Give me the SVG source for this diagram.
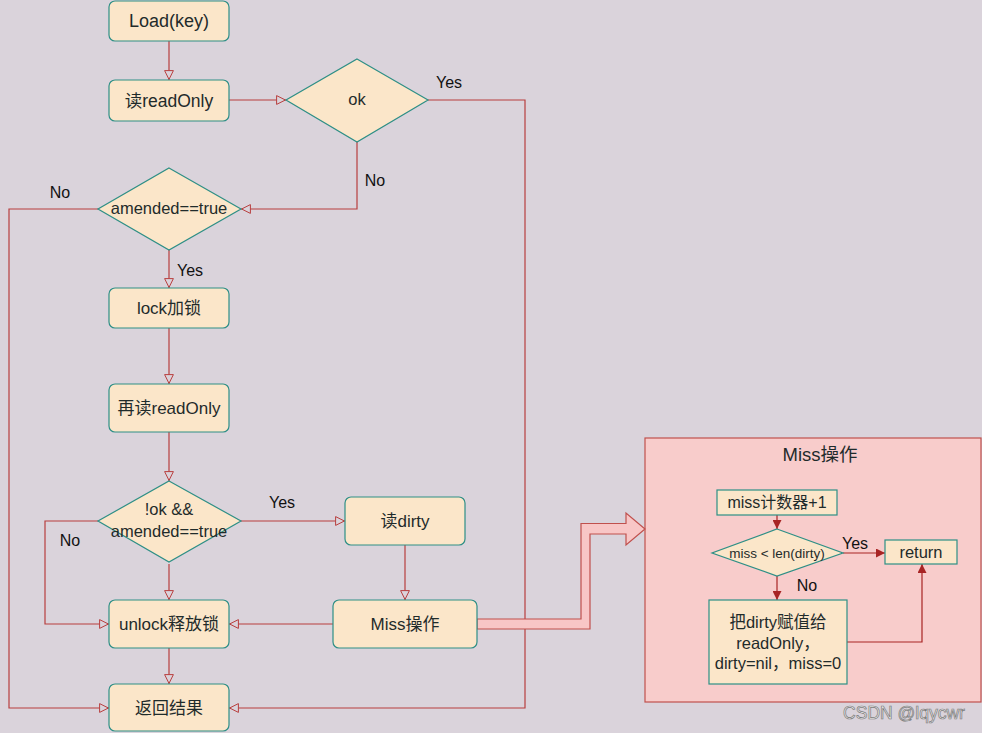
<svg xmlns="http://www.w3.org/2000/svg" width="982" height="733" viewBox="0 0 982 733">
<style>
.bg{fill:#dad3db}
.n{fill:#fbe6c9;stroke:#2e8f86;stroke-width:1.2}
.t{font-family:"Liberation Sans","Noto Sans CJK SC",Arial,sans-serif;fill:#1f2b2b;text-anchor:middle;dominant-baseline:central}
.l{font-family:"Liberation Sans",Arial,sans-serif;fill:#111;text-anchor:middle;dominant-baseline:central;font-size:16px}
.c{fill:none;stroke:#b83e3e;stroke-width:1.2}
.m{fill:none;stroke:#a82424;stroke-width:1.2}
</style>
<defs>
<marker id="ho" viewBox="0 0 10 10" refX="10" refY="5" markerWidth="10" markerHeight="10" markerUnits="userSpaceOnUse" orient="auto">
<path d="M0.6,0.6 L9.4,5 L0.6,9.4 Z" fill="#dad3db" stroke="#b83e3e" stroke-width="1"/>
</marker>
<marker id="fi" viewBox="0 0 10 10" refX="10" refY="5" markerWidth="9" markerHeight="9" markerUnits="userSpaceOnUse" orient="auto">
<path d="M0,0 L10,5 L0,10 Z" fill="#a82424"/>
</marker>
</defs>
<rect class="bg" x="0" y="0" width="982" height="733"/>

<g id="miss-panel">
<rect x="645" y="438" width="336" height="264" fill="#f8cccb" stroke="#c0504d" stroke-width="1.2"/>
<text class="t" x="820" y="454" font-size="18.5">Miss操作</text>
</g>

<g id="connectors">
<polyline class="c" points="169,41 169,80" marker-end="url(#ho)"/>
<polyline class="c" points="229,100 286,100" marker-end="url(#ho)"/>
<polyline class="c" points="428,100 525,100 525,708 229,708" marker-end="url(#ho)"/>
<polyline class="c" points="357,142 357,209 241,209" marker-end="url(#ho)"/>
<polyline class="c" points="98,209 9,209 9,708 109,708" marker-end="url(#ho)"/>
<polyline class="c" points="169,250 169,288" marker-end="url(#ho)"/>
<polyline class="c" points="169,328 169,384" marker-end="url(#ho)"/>
<polyline class="c" points="169,432 169,481" marker-end="url(#ho)"/>
<polyline class="c" points="241,521 345,521" marker-end="url(#ho)"/>
<polyline class="c" points="98,521 45,521 45,624 109,624" marker-end="url(#ho)"/>
<polyline class="c" points="169,564 169,600" marker-end="url(#ho)"/>
<polyline class="c" points="405,545 405,600" marker-end="url(#ho)"/>
<polyline class="c" points="333,624 229,624" marker-end="url(#ho)"/>
<polyline class="c" points="169,648 169,684" marker-end="url(#ho)"/>
<polygon points="477,619 581,619 581,523.5 626,523.5 626,513 645,529 626,545 626,534 590,534 590,629 477,629" fill="#f8c6c6" stroke="#c0504d" stroke-width="1.2"/>
<polyline class="m" points="777,515 777,529" marker-end="url(#fi)"/>
<polyline class="m" points="843,553 885,553" marker-end="url(#fi)"/>
<polyline class="m" points="777,576 777,600" marker-end="url(#fi)"/>
<polyline class="m" points="847,642 922,642 922,564" marker-end="url(#fi)"/>
<text class="l" x="449" y="82">Yes</text>
<text class="l" x="375" y="180">No</text>
<text class="l" x="60" y="192">No</text>
<text class="l" x="190" y="270">Yes</text>
<text class="l" x="282" y="502">Yes</text>
<text class="l" x="70" y="540">No</text>
<text class="l" x="855" y="543" font-size="14">Yes</text>
<text class="l" x="807" y="585" font-size="14">No</text>
</g>

<g id="load"><rect class="n" x="109" y="1" width="120" height="40" rx="6"/><text class="t" x="169" y="21" font-size="18">Load(key)</text></g>
<g id="read-readonly"><rect class="n" x="109" y="80" width="120" height="41" rx="6"/><text class="t" x="169" y="101" font-size="17.5">读readOnly</text></g>
<g id="ok"><polygon class="n" points="357,59 428,100 357,142 286,100"/><text class="t" x="357" y="99" font-size="16.5">ok</text></g>
<g id="amended"><polygon class="n" points="169,168 241,209 169,250 98,209"/><text class="t" x="169" y="208" font-size="16.5">amended==true</text></g>
<g id="lock"><rect class="n" x="109" y="288" width="120" height="40" rx="6"/><text class="t" x="169" y="308" font-size="17">lock加锁</text></g>
<g id="reread"><rect class="n" x="109" y="384" width="120" height="48" rx="6"/><text class="t" x="169" y="408" font-size="17">再读readOnly</text></g>
<g id="notok"><polygon class="n" points="169,481 241,521 169,562 98,521"/><text class="t" x="169" y="509" font-size="16.5">!ok &amp;&amp;</text><text class="t" x="169" y="531" font-size="16.5">amended==true</text></g>
<g id="read-dirty"><rect class="n" x="345" y="497" width="120" height="48" rx="6"/><text class="t" x="405" y="521" font-size="17">读dirty</text></g>
<g id="miss-op"><rect class="n" x="333" y="600" width="144" height="48" rx="6"/><text class="t" x="405" y="624" font-size="17">Miss操作</text></g>
<g id="unlock"><rect class="n" x="109" y="600" width="120" height="48" rx="6"/><text class="t" x="169" y="624" font-size="17">unlock释放锁</text></g>
<g id="result"><rect class="n" x="109" y="684" width="120" height="47" rx="6"/><text class="t" x="169" y="708" font-size="17">返回结果</text></g>

<g id="miss-counter"><rect class="n" x="717" y="490" width="120" height="25"/><text class="t" x="777" y="502.5" font-size="16">miss计数器+1</text></g>
<g id="miss-cmp"><polygon class="n" points="777,529 843,553 777,576 712,553"/><text class="t" x="777" y="553" font-size="13.5">miss &lt; len(dirty)</text></g>
<g id="return"><rect class="n" x="885" y="540" width="72" height="24"/><text class="t" x="921" y="552" font-size="16.5">return</text></g>
<g id="promote"><rect class="n" x="709" y="600" width="138" height="84"/><text class="t" x="778" y="622" font-size="16.5">把dirty赋值给</text><text class="t" x="778" y="643" font-size="16.5">readOnly，</text><text class="t" x="778" y="663" font-size="16.5">dirty=nil，miss=0</text></g>

<text x="904" y="713" font-family="Liberation Sans,Arial,sans-serif" font-size="17.5" fill="#ececec" stroke="#7a7a7a" stroke-width="0.7" text-anchor="middle" dominant-baseline="central">CSDN @lqycwr</text>
</svg>
